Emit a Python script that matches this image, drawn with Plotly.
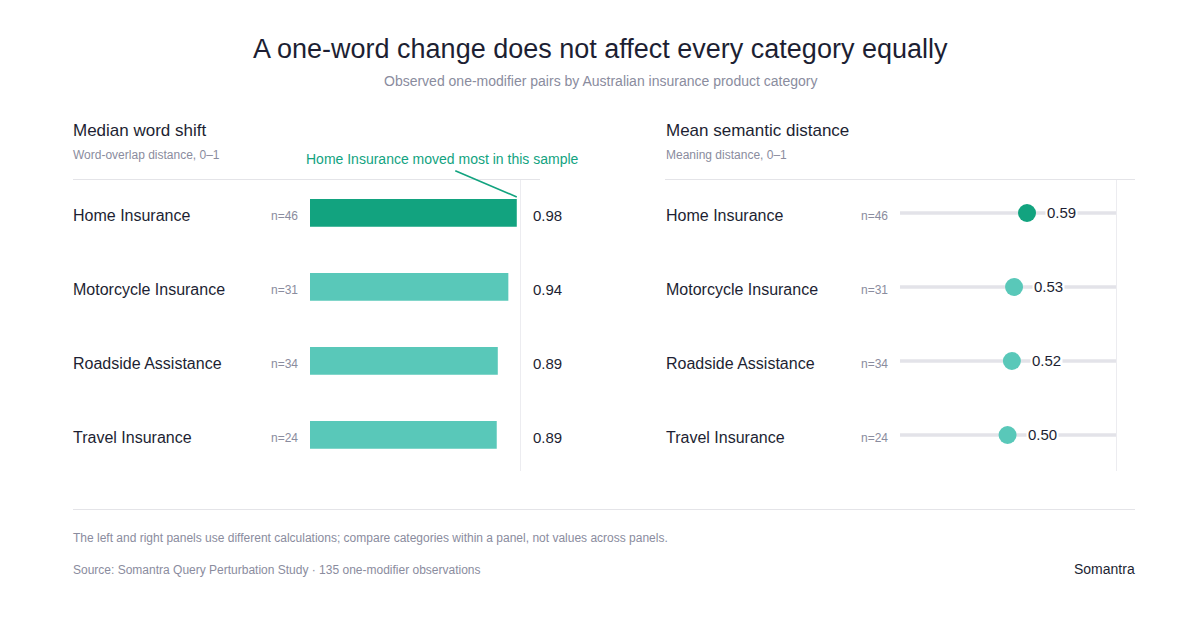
import plotly.graph_objects as go

categories = ["Home Insurance", "Motorcycle Insurance", "Roadside Assistance", "Travel Insurance"]
sample_sizes = [46, 31, 34, 24]
word_shift = [0.98, 0.94, 0.89, 0.885]
word_shift_labels = ["0.98", "0.94", "0.89", "0.89"]
semantic_distance = [0.588, 0.528, 0.518, 0.498]
semantic_labels = ["0.59", "0.53", "0.52", "0.50"]

OFF = 8  # page body margin
W, H = 1200 - OFF, 620 - OFF
FONT = "Liberation Sans, Arial, Helvetica, sans-serif"
DARK = "#1d1f33"
GRAY = "#8a8c9e"
GREEN = "#12a37f"
TEAL = "#59c8b9"
TRACK = "#e3e3e9"
RULE = "#e4e4e8"

def px(x):
    return (x - OFF) / W

def py(y):
    return 1 - (y - OFF) / H

bar_colors = [GREEN if i == 0 else TEAL for i in range(len(categories))]

fig = go.Figure()

fig.add_trace(go.Bar(
    x=word_shift, y=categories, orientation="h",
    marker=dict(color=bar_colors, line=dict(width=0)),
    width=0.375, xaxis="x", yaxis="y", hoverinfo="skip", showlegend=False,
))

# tracks
for c in categories:
    fig.add_trace(go.Scatter(
        x=[0, 1], y=[c, c], mode="lines",
        line=dict(color=TRACK, width=3.5),
        xaxis="x2", yaxis="y2", hoverinfo="skip", showlegend=False,
    ))

fig.add_trace(go.Scatter(
    x=semantic_distance, y=categories, mode="markers",
    marker=dict(size=18, color=bar_colors, line=dict(width=0)),
    xaxis="x2", yaxis="y2", hoverinfo="skip", showlegend=False,
))

ydom = [py(472), py(176)]
yrng = [len(categories) - 0.5, -0.5]
fig.update_layout(
    width=W, height=H,
    margin=dict(l=0, r=0, t=0, b=0),
    paper_bgcolor="white", plot_bgcolor="white",
    font=dict(family=FONT, color=DARK),
    xaxis=dict(domain=[px(310), px(521)], range=[0, 1], visible=False, fixedrange=True),
    yaxis=dict(domain=ydom, range=yrng, type="category", categoryorder="array", categoryarray=categories,
               visible=False, fixedrange=True),
    xaxis2=dict(domain=[px(900), px(1116)], range=[0, 1], visible=False, fixedrange=True, anchor="y2"),
    yaxis2=dict(domain=ydom, range=yrng, type="category", categoryorder="array", categoryarray=categories,
                visible=False, fixedrange=True, anchor="x2"),
    showlegend=False,
)

ann = []
def text(x, y, s, size, color, xanchor="left", **kw):
    ann.append(dict(x=px(x), y=py(y), xref="paper", yref="paper", text=s, showarrow=False,
                    xanchor=xanchor, yanchor="middle", font=dict(size=size, color=color, family=FONT), **kw))

text(600, 49, "A one-word change does not affect every category equally", 27, DARK, "center")
text(600, 81, "Observed one-modifier pairs by Australian insurance product category", 14, GRAY, "center")

text(71, 131, "Median word shift", 17, DARK)
text(71, 155, "Word-overlap distance, 0–1", 12, GRAY)
text(664, 131, "Mean semantic distance", 17, DARK)
text(664, 155, "Meaning distance, 0–1", 12, GRAY)

for i, c in enumerate(categories):
    for (lx, nx, yr) in [(71, 300, "y"), (664, 890, "y2")]:
        ann.append(dict(x=px(lx), y=c, xref="paper", yref=yr, text=c, showarrow=False,
                        xanchor="left", yanchor="middle", yshift=-2, font=dict(size=16, color=DARK, family=FONT)))
        ann.append(dict(x=px(nx), y=c, xref="paper", yref=yr, text=f"n={sample_sizes[i]}", showarrow=False,
                        xanchor="right", yanchor="middle", yshift=-3, font=dict(size=12, color=GRAY, family=FONT)))
    ann.append(dict(x=px(531), y=c, xref="paper", yref="y", text=word_shift_labels[i], showarrow=False,
                    xanchor="left", yanchor="middle", yshift=-2, font=dict(size=15, color=DARK, family=FONT)))
    ann.append(dict(x=semantic_distance[i], y=c, xref="x2", yref="y2", text=semantic_labels[i], showarrow=False,
                    xanchor="left", yanchor="middle", xshift=18, yshift=1, bgcolor="white", borderpad=1,
                    font=dict(size=15, color=DARK, family=FONT)))

# callout
ann.append(dict(x=word_shift[0], y=categories[0], xref="x", yref="y", ax=-63, ay=-27,
                text="", showarrow=True, arrowhead=0, arrowwidth=1.6,
                arrowcolor=GREEN, yshift=16, standoff=0))
text(442, 159, "Home Insurance moved most in this sample", 14, GREEN, "center")

text(71, 538, "The left and right panels use different calculations; compare categories within a panel, not values across panels.", 12, GRAY)
text(71, 570, "Source: Somantra Query Perturbation Study · 135 one-modifier observations", 12, GRAY)
text(1137, 569, "Somantra", 14, DARK, "right")

fig.update_layout(annotations=ann)

shapes = [
    dict(type="line", xref="paper", yref="paper", x0=px(73), x1=px(540), y0=py(179.5), y1=py(179.5), line=dict(color=RULE, width=1)),
    dict(type="line", xref="paper", yref="paper", x0=px(665), x1=px(1135), y0=py(179.5), y1=py(179.5), line=dict(color=RULE, width=1)),
    dict(type="line", xref="paper", yref="paper", x0=px(520.5), x1=px(520.5), y0=py(180), y1=py(471), line=dict(color="#ececf0", width=1)),
    dict(type="line", xref="paper", yref="paper", x0=px(1116.5), x1=px(1116.5), y0=py(180), y1=py(471), line=dict(color="#ececf0", width=1)),
    dict(type="line", xref="paper", yref="paper", x0=px(73), x1=px(1135), y0=py(509.5), y1=py(509.5), line=dict(color=RULE, width=1)),
]
fig.update_layout(shapes=shapes)

fig.write_html("out.html", config={"displayModeBar": False})
